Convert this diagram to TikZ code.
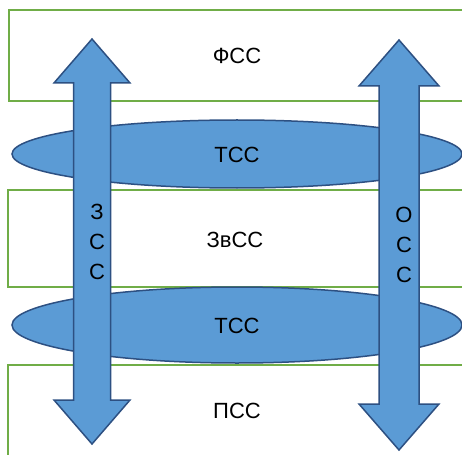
\documentclass[tikz,border=0pt]{standalone}
\usepackage{fontspec}
\setmainfont{Liberation Sans}
\definecolor{grn}{RGB}{112,173,71}
\definecolor{bfill}{RGB}{91,155,213}
\definecolor{bdraw}{RGB}{45,80,130}
\begin{document}
\begin{tikzpicture}[x=1pt,y=-1pt,
  layerbox/.style={draw=grn,line width=2.4pt},
  blueshape/.style={fill=bfill,draw=bdraw,line width=1.5pt,line join=miter},
  lbl/.style={font=\fontsize{22}{24}\selectfont,inner sep=0pt},
  vlbl/.style={font=\fontsize{22}{30}\selectfont,inner sep=0pt,align=center}]
\useasboundingbox (0,0) rectangle (462,454);
% layer rectangles (open to the right)
\draw[layerbox] (475,10) -- (9,10) -- (9,101) -- (475,101);
\draw[layerbox] (475,190) -- (8,190) -- (8,287) -- (475,287);
\draw[layerbox] (475,365) -- (8,365) -- (8,470);
% ellipses
\draw[blueshape] (237,154) ellipse [x radius=225, y radius=34];
\draw[blueshape] (237,325) ellipse [x radius=225, y radius=38];
% left double arrow
\draw[blueshape] (92,39) -- (130,83) -- (110.5,83) -- (110.5,400) -- (130,400) -- (92,444)
  -- (54,400) -- (73.5,400) -- (73.5,83) -- (54,83) -- cycle;
% right double arrow
\draw[blueshape] (399,40) -- (439,86) -- (419,86) -- (419,404) -- (439,404) -- (399,450)
  -- (359,404) -- (379,404) -- (379,86) -- (359,86) -- cycle;
% labels
\node[lbl] (fss) at (237,56) {ФСС};
\node[lbl] (tss1) at (237,155) {ТСС};
\node[lbl] (zvss) at (235,240) {ЗвСС};
\node[lbl] (tss2) at (237,326) {ТСС};
\node[lbl] (pss) at (237,411) {ПСС};
\node[vlbl] (zss) at (97,242) {З\\С\\С};
\node[vlbl] (oss) at (404,245) {О\\С\\С};
\end{tikzpicture}
\end{document}
